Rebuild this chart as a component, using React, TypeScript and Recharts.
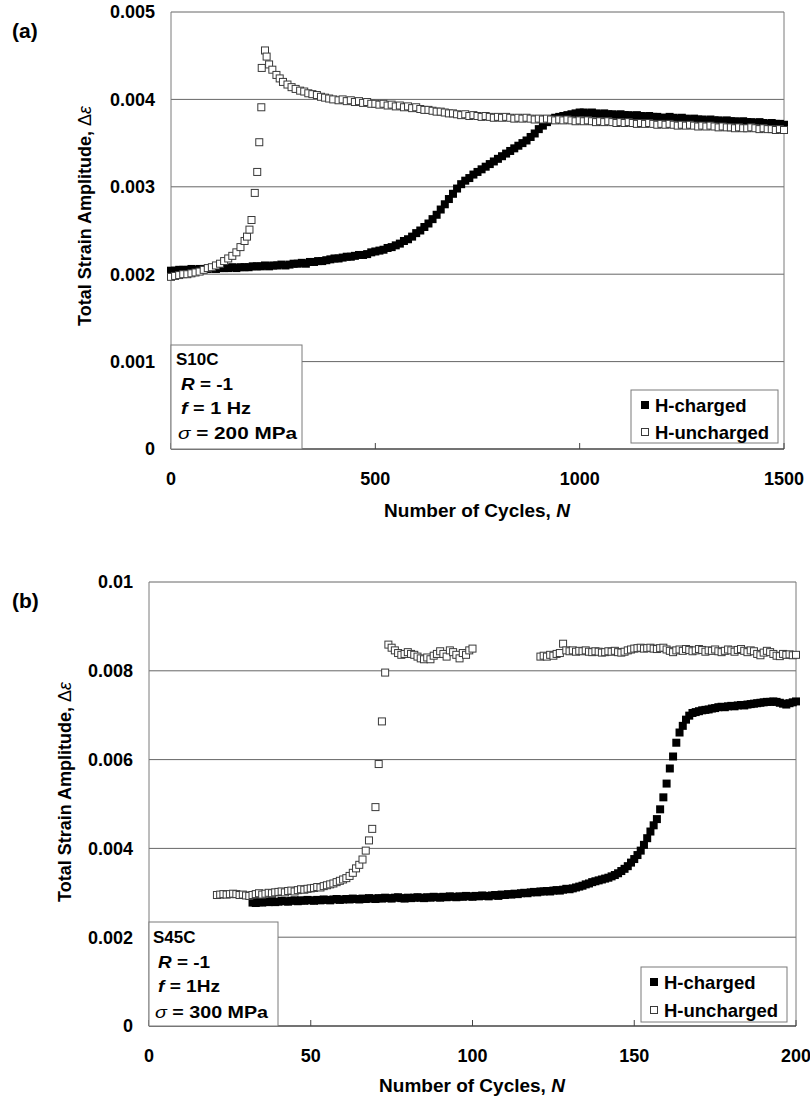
import React from 'react';
import { ScatterChart, Scatter, XAxis, YAxis, CartesianGrid, ReferenceLine } from 'recharts';

const FONT = '"Liberation Sans", Arial, Helvetica, sans-serif';

// ---------- Panel (a): S10C ----------
const aXTicks = [0, 500, 1000, 1500];
const aYTicks = [0, 0.001, 0.002, 0.003, 0.004, 0.005];

const aChargedN = [
  0, 10, 20, 30, 40, 50, 60, 70, 80, 90, 100,
  110, 120, 130, 140, 150, 160, 170, 180, 190, 200,
  210, 220, 230, 240, 250, 260, 270, 280, 290, 300,
  310, 320, 330, 340, 350, 360, 370, 380, 390, 400,
  410, 420, 430, 440, 450, 460, 470, 480, 490, 500,
  510, 520, 530, 540, 550, 560, 570, 580, 590, 600,
  610, 620, 630, 640, 650, 660, 670, 680, 690, 700,
  710, 720, 730, 740, 750, 760, 770, 780, 790, 800,
  810, 820, 830, 840, 850, 860, 870, 880, 890, 900,
  910, 920, 930, 940, 950, 960, 970, 980, 990, 1000,
  1010, 1020, 1030, 1040, 1050, 1060, 1070, 1080, 1090, 1100,
  1110, 1120, 1130, 1140, 1150, 1160, 1170, 1180, 1190, 1200,
  1210, 1220, 1230, 1240, 1250, 1260, 1270, 1280, 1290, 1300,
  1310, 1320, 1330, 1340, 1350, 1360, 1370, 1380, 1390, 1400,
  1410, 1420, 1430, 1440, 1450, 1460, 1470, 1480, 1490, 1500,
];
const aChargedEps = [
  0.00204, 0.00204, 0.00205, 0.00205, 0.00205, 0.00206, 0.00205, 0.00206, 0.00206, 0.00206, 0.00207,
  0.00206, 0.00207, 0.00207, 0.00207, 0.00208, 0.00207, 0.00208, 0.00208, 0.00208, 0.00209,
  0.00209, 0.00209, 0.0021, 0.00209, 0.0021, 0.0021, 0.00211, 0.0021, 0.00211, 0.00212,
  0.00212, 0.00213, 0.00212, 0.00214, 0.00214, 0.00215, 0.00215, 0.00216, 0.00217, 0.00218,
  0.00218, 0.00219, 0.0022, 0.0022, 0.00221, 0.00222, 0.00222, 0.00223, 0.00225, 0.00226,
  0.00227, 0.00228, 0.0023, 0.00231, 0.00233, 0.00235, 0.00238, 0.0024, 0.00243, 0.00247,
  0.0025, 0.00254, 0.00258, 0.00263, 0.00268, 0.00274, 0.0028, 0.00286, 0.00292, 0.00298,
  0.00303, 0.00307, 0.0031, 0.00314, 0.00317, 0.0032, 0.00323, 0.00326, 0.00329, 0.00332,
  0.00335, 0.00338, 0.00341, 0.00344, 0.00347, 0.0035, 0.00353, 0.00357, 0.00361, 0.00366,
  0.0037, 0.00374, 0.00377, 0.00379, 0.0038, 0.00381, 0.00382, 0.00383, 0.00384, 0.00385,
  0.00385, 0.00384, 0.00385, 0.00384, 0.00383, 0.00384, 0.00383, 0.00383, 0.00382, 0.00383,
  0.00382, 0.00382, 0.00381, 0.00382, 0.00381, 0.0038, 0.00381, 0.0038, 0.0038, 0.00379,
  0.00379, 0.0038, 0.00379, 0.00378, 0.00379, 0.00378, 0.00377, 0.00378, 0.00377, 0.00377,
  0.00376, 0.00377, 0.00376, 0.00376, 0.00375, 0.00376, 0.00375, 0.00375, 0.00374, 0.00375,
  0.00374, 0.00374, 0.00373, 0.00374, 0.00373, 0.00372, 0.00373, 0.00372, 0.00372, 0.00371,
];

const aUnchargedN = [
  0, 10, 20, 30, 40, 50, 60, 70, 80, 90, 100, 110, 120, 130, 140, 150, 160, 170, 180,
  186, 192, 197, 205, 211, 216, 221, 222, 230, 234, 240, 248, 258, 266, 274, 285, 295,
  305, 316, 326, 336, 346, 357, 367, 377, 387, 397,
  410, 420, 430, 440, 450, 460, 470, 480, 490, 500,
  510, 520, 530, 540, 550, 560, 570, 580, 590, 600,
  610, 620, 630, 640, 650, 660, 670, 680, 690, 700,
  710, 720, 730, 740, 750, 760, 770, 780, 790, 800,
  810, 820, 830, 840, 850, 860, 870, 880, 890, 900,
  910, 920, 930, 940, 950, 960, 970, 980, 990, 1000,
  1010, 1020, 1030, 1040, 1050, 1060, 1070, 1080, 1090, 1100,
  1110, 1120, 1130, 1140, 1150, 1160, 1170, 1180, 1190, 1200,
  1210, 1220, 1230, 1240, 1250, 1260, 1270, 1280, 1290, 1300,
  1310, 1320, 1330, 1340, 1350, 1360, 1370, 1380, 1390, 1400,
  1410, 1420, 1430, 1440, 1450, 1460, 1470, 1480, 1490, 1500,
];
const aUnchargedEps = [
  0.00197, 0.00198, 0.00199, 0.002, 0.002, 0.00201, 0.00202, 0.00203, 0.00205, 0.00207,
  0.00208, 0.0021, 0.00212, 0.00215, 0.00218, 0.00221, 0.00225, 0.00231, 0.00238,
  0.00243, 0.00251, 0.00262, 0.00293, 0.00317, 0.00351, 0.00391, 0.00436, 0.00456, 0.00449,
  0.0044, 0.00434, 0.00428, 0.00424, 0.0042, 0.00417, 0.00414, 0.00412, 0.0041, 0.00409,
  0.00407, 0.00406, 0.00405, 0.00403, 0.00402, 0.00401, 0.004,
  0.00399, 0.004, 0.00398, 0.00399, 0.00397, 0.00398, 0.00396, 0.00397, 0.00395, 0.00395,
  0.00394, 0.00395, 0.00393, 0.00394, 0.00392, 0.00393, 0.00391, 0.00392, 0.0039, 0.00391,
  0.00389, 0.00388, 0.00388, 0.00387, 0.00386, 0.00386, 0.00385, 0.00384, 0.00384, 0.00383,
  0.00382, 0.00383, 0.00381, 0.00382, 0.00381, 0.0038, 0.00381, 0.0038, 0.00379, 0.0038,
  0.00379, 0.0038, 0.00379, 0.00378, 0.00379, 0.00378, 0.00379, 0.00378, 0.00377, 0.00378,
  0.00377, 0.00378, 0.00377, 0.00376, 0.00377, 0.00376, 0.00377, 0.00376, 0.00375, 0.00376,
  0.00375, 0.00376, 0.00375, 0.00374, 0.00375, 0.00374, 0.00375, 0.00374, 0.00373, 0.00374,
  0.00373, 0.00374, 0.00373, 0.00372, 0.00373, 0.00372, 0.00373, 0.00372, 0.00371, 0.00372,
  0.00371, 0.00372, 0.00371, 0.0037, 0.00371, 0.0037, 0.00371, 0.0037, 0.00369, 0.0037,
  0.00369, 0.0037, 0.00369, 0.00368, 0.00369, 0.00368, 0.00368, 0.00367, 0.00368, 0.00367,
  0.00367, 0.00368, 0.00367, 0.00366, 0.00367, 0.00366, 0.00366, 0.00365, 0.00366, 0.00365,
];

// ---------- Panel (b): S45C ----------
const bXTicks = [0, 50, 100, 150, 200];
const bYTicks = [0, 0.002, 0.004, 0.006, 0.008, 0.01];

const bChargedN = [
  32, 33, 34, 35, 36, 37, 38, 39, 40, 41,
  42, 43, 44, 45, 46, 47, 48, 49, 50, 51,
  52, 53, 54, 55, 56, 57, 58, 59, 60, 61,
  62, 63, 64, 65, 66, 67, 68, 69, 70, 71,
  72, 73, 74, 75, 76, 77, 78, 79, 80, 81,
  82, 83, 84, 85, 86, 87, 88, 89, 90, 91,
  92, 93, 94, 95, 96, 97, 98, 99, 100, 101,
  102, 103, 104, 105, 106, 107, 108, 109, 110, 111,
  112, 113, 114, 115, 116, 117, 118, 119, 120, 121,
  122, 123, 124, 125, 126, 127, 128, 129, 130, 131,
  132, 133, 134, 135, 136, 137, 138, 139, 140, 141,
  142, 143, 144, 145, 146, 147, 148, 149, 150, 151,
  152, 153, 154, 155, 156, 157, 158, 159, 160, 161,
  162, 163, 164, 165, 166, 167, 168, 169, 170, 171,
  172, 173, 174, 175, 176, 177, 178, 179, 180, 181,
  182, 183, 184, 185, 186, 187, 188, 189, 190, 191,
  192, 193, 194, 195, 196, 197, 198, 199, 200,
];
const bChargedEps = [
  0.00278, 0.00277, 0.00279, 0.00278, 0.0028, 0.00279, 0.00281, 0.00279, 0.0028, 0.00282,
  0.00281, 0.0028, 0.00282, 0.00283, 0.00281, 0.00283, 0.00282, 0.00284, 0.00283, 0.00282,
  0.00284, 0.00283, 0.00285, 0.00284, 0.00283, 0.00285, 0.00286, 0.00284, 0.00285, 0.00286,
  0.00285, 0.00287, 0.00286, 0.00285, 0.00287, 0.00286, 0.00288, 0.00287, 0.00286, 0.00288,
  0.00287, 0.00289, 0.00288, 0.00287, 0.00289, 0.0029, 0.00288, 0.00287, 0.00289, 0.00288,
  0.00289, 0.0029, 0.00289, 0.00288, 0.0029, 0.00289, 0.00291, 0.0029, 0.00289, 0.00291,
  0.0029, 0.00292, 0.00291, 0.0029, 0.00292, 0.00291, 0.00293, 0.00292, 0.00291, 0.00293,
  0.00292, 0.00294, 0.00293, 0.00292, 0.00294, 0.00295, 0.00293, 0.00296, 0.00295, 0.00297,
  0.00296, 0.00298, 0.00297, 0.00299, 0.003, 0.00299, 0.00301, 0.00302, 0.00301, 0.00303,
  0.00303, 0.00304, 0.00303, 0.00305, 0.00306, 0.00305, 0.00307, 0.00309, 0.00308, 0.0031,
  0.00312, 0.00314, 0.00316, 0.00319, 0.00321, 0.00324, 0.00326, 0.00328, 0.0033, 0.00332,
  0.00334, 0.00337, 0.0034, 0.00344, 0.00349, 0.00354, 0.0036, 0.00368, 0.00376, 0.00385,
  0.00395, 0.00408, 0.00423, 0.00438, 0.00452, 0.00466, 0.00488, 0.00515, 0.00546, 0.0058,
  0.00607, 0.00638, 0.00661, 0.00676, 0.0069, 0.00699, 0.00705, 0.00707, 0.00709, 0.00711,
  0.00712, 0.00713, 0.00715, 0.00716, 0.00718, 0.00719, 0.00718, 0.0072, 0.00721, 0.0072,
  0.00722, 0.00723, 0.00722, 0.00724, 0.00725, 0.00726, 0.00727, 0.00728, 0.00729, 0.0073,
  0.0073, 0.00731, 0.0073, 0.00728, 0.00726, 0.00724, 0.00727, 0.00729, 0.00731,
];

const bUnchargedN = [
  21, 22, 23, 24, 25, 26, 27, 28, 29, 30,
  31, 32, 33, 34, 35, 36, 37, 38, 39, 40,
  41, 42, 43, 44, 45, 46, 47, 48, 49, 50,
  51, 52, 53, 54, 55, 56, 57, 58, 59, 60,
  61, 62, 63, 64, 65, 66, 67, 68, 69, 70,
  71, 72, 73, 74, 75, 76, 77, 78, 79, 80,
  81, 82, 83, 84, 85, 86, 87, 88, 89, 90,
  91, 92, 93, 94, 95, 96, 97, 98, 99, 100,
  121, 122, 123, 124, 125, 126, 127, 128,
  129, 130, 131, 132, 133, 134, 135, 136, 137, 138,
  139, 140, 141, 142, 143, 144, 145, 146, 147, 148,
  149, 150, 151, 152, 153, 154, 155, 156, 157, 158,
  159, 160, 161, 162, 163, 164, 165, 166, 167, 168,
  169, 170, 171, 172, 173, 174, 175, 176, 177, 178,
  179, 180, 181, 182, 183, 184, 185, 186, 187, 188,
  189, 190, 191, 192, 193, 194, 195, 196, 197, 198,
  199, 200,
];
const bUnchargedEps = [
  0.00295, 0.00296, 0.00297, 0.00296, 0.00297, 0.00298, 0.00297, 0.00295, 0.00296, 0.00294,
  0.00293, 0.00295, 0.00297, 0.00299, 0.00296, 0.00298, 0.003, 0.00299, 0.00301, 0.00302,
  0.00303, 0.00301, 0.00304, 0.00305, 0.00303, 0.00306, 0.00308, 0.00307, 0.00309, 0.0031,
  0.00311, 0.00313, 0.00312, 0.00315, 0.00317, 0.00319, 0.00321, 0.00324, 0.00327, 0.0033,
  0.00333, 0.00338, 0.00345, 0.00355, 0.00363, 0.00375, 0.00395, 0.00418, 0.00444, 0.00493,
  0.0059, 0.00686, 0.00796, 0.00859, 0.00852, 0.00846, 0.0084, 0.00836, 0.00838, 0.00842,
  0.00838, 0.00836, 0.00832, 0.00828, 0.00826, 0.0083, 0.00826, 0.00834, 0.00838, 0.00844,
  0.00838, 0.00832, 0.00846, 0.00842, 0.00836, 0.00828, 0.0084, 0.00836, 0.00846, 0.0085,
  0.00832, 0.00834, 0.00832, 0.00836, 0.00834, 0.00838, 0.0084, 0.00861,
  0.00846, 0.00844, 0.00846, 0.00843, 0.00845, 0.00844, 0.00846, 0.00843, 0.00842, 0.00844,
  0.00843, 0.00841, 0.00842, 0.00844, 0.00843, 0.00845, 0.00842, 0.00841, 0.00843, 0.00846,
  0.00848, 0.0085, 0.00851, 0.00852, 0.0085, 0.00851, 0.00852, 0.0085, 0.00849, 0.00851,
  0.00852, 0.00848, 0.00845, 0.00842, 0.00846, 0.00848, 0.00845, 0.00849, 0.00847, 0.00844,
  0.00846, 0.00849, 0.00847, 0.00843, 0.00846, 0.00845, 0.00848, 0.00844, 0.00842, 0.00845,
  0.00848, 0.00846, 0.00843, 0.00847, 0.00849, 0.00845, 0.00842, 0.00846, 0.00844, 0.00838,
  0.00835, 0.00841, 0.00845, 0.00842, 0.00838, 0.00834, 0.00833, 0.00838, 0.00836, 0.00837,
  0.00835, 0.00836,
];

const seriesNames = ['H-charged', 'H-uncharged'];
const aInfo = ['S10C', 'R', ' = -1', 'f', ' = 1 Hz', 'σ', ' = 200 MPa'];
const bInfo = ['S45C', 'R', ' = -1', 'f', ' = 1Hz', 'σ', ' = 300 MPa'];
const yTitle = 'Total Strain Amplitude, ';
const xTitle = 'Number of Cycles, ';

const zip = (ns: number[], es: number[]) => ns.map((n, i) => ({ n, eps: es[i] }));
const aCharged = zip(aChargedN, aChargedEps);
const aUncharged = zip(aUnchargedN, aUnchargedEps);
const bCharged = zip(bChargedN, bChargedEps);
const bUncharged = zip(bUnchargedN, bUnchargedEps);

const FilledSquare = (p: any) => (
  <rect x={p.cx - 4} y={p.cy - 4} width={8} height={8} fill="#000" />
);
const OpenSquare = (p: any) => (
  <rect x={p.cx - 3.5} y={p.cy - 3.5} width={7} height={7} fill="#fff" stroke="#3a3a3a" strokeWidth={1} />
);

const XTick = (props: any) => {
  const { x, y, payload } = props;
  const axisY = y - 6;
  return (
    <g>
      <line x1={x} x2={x} y1={axisY} y2={axisY - 6} stroke="#444" strokeWidth={1} />
      <text x={x} y={axisY + 30} dy="0.35em" textAnchor="middle" fontSize={18} fontWeight="bold" fill="#000" fontFamily={FONT}>
        {payload.value}
      </text>
    </g>
  );
};

const yTickStyle = { fontSize: 18, fontWeight: 'bold', fill: '#000', fontFamily: FONT };

function Panel(props: {
  width: number; height: number; margin: any; yWidth: number; xHeight: number;
  xDomain: number[]; yDomain: number[]; xTicks: number[]; yTicks: number[];
  charged: any[]; uncharged: any[];
}) {
  const { width, height, margin, yWidth, xHeight, xDomain, yDomain, xTicks, yTicks, charged, uncharged } = props;
  return (
    <ScatterChart width={width} height={height} margin={margin}>
      <CartesianGrid horizontal vertical={false} stroke="#666" />
      <XAxis
        type="number" dataKey="n" domain={xDomain} ticks={xTicks} interval={0}
        height={xHeight} axisLine={{ stroke: '#333' }} tickLine={false} tickSize={6} tickMargin={0}
        tick={<XTick />}
      />
      <YAxis
        type="number" dataKey="eps" domain={yDomain} ticks={yTicks} interval={0}
        width={yWidth} axisLine={{ stroke: '#7a7a7a' }} tickLine={false} tickSize={6} tickMargin={10}
        tick={yTickStyle} tickFormatter={(v: number) => String(v)}
      />
      <ReferenceLine x={xDomain[1]} stroke="#7a7a7a" />
      <Scatter name={seriesNames[0]} data={charged} shape={FilledSquare} isAnimationActive={false} />
      <Scatter name={seriesNames[1]} data={uncharged} shape={OpenSquare} isAnimationActive={false} />
    </ScatterChart>
  );
}

function Annotations(p: {
  tag: string; tagY: number; yTitleX: number; yTitleY: number; xTitleX: number; xTitleY: number;
  box: number[]; info: string[]; infoX: number; infoY: number[]; infoLen: number[];
  leg: number[]; legMarkX: number; legTextX: number; legY: number[];
}) {
  const t = { fontFamily: FONT, fontWeight: 'bold' as const, fill: '#000' };
  return (
    <g>
      <text x={12} y={p.tagY} fontSize={21} {...t}>{p.tag}</text>
      <text transform={`translate(${p.yTitleX},${p.yTitleY}) rotate(-90)`} textAnchor="middle" fontSize={18} {...t}>
        {yTitle}
        <tspan fontWeight="normal">Δ</tspan>
        <tspan fontWeight="normal" fontStyle="italic">ε</tspan>
      </text>
      <text x={p.xTitleX} y={p.xTitleY} textAnchor="middle" fontSize={19} {...t}>
        {xTitle}
        <tspan fontStyle="italic">N</tspan>
      </text>
      <rect x={p.box[0]} y={p.box[1]} width={p.box[2]} height={p.box[3]} fill="#fff" stroke="#7a7a7a" />
      <text x={p.infoX} y={p.infoY[0]} fontSize={17} {...t}>{p.info[0]}</text>
      <text x={p.infoX + 5} y={p.infoY[1]} fontSize={17} textLength={p.infoLen[0]} lengthAdjust="spacingAndGlyphs" {...t}>
        <tspan fontStyle="italic">{p.info[1]}</tspan>{p.info[2]}
      </text>
      <text x={p.infoX + 5} y={p.infoY[2]} fontSize={17} textLength={p.infoLen[1]} lengthAdjust="spacingAndGlyphs" {...t}>
        <tspan fontStyle="italic">{p.info[3]}</tspan>{p.info[4]}
      </text>
      <text x={p.infoX + 2} y={p.infoY[3]} fontSize={17} textLength={p.infoLen[2]} lengthAdjust="spacingAndGlyphs" {...t}>
        <tspan fontStyle="italic" fontWeight="normal">{p.info[5]}</tspan>{p.info[6]}
      </text>
      <rect x={p.leg[0]} y={p.leg[1]} width={p.leg[2]} height={p.leg[3]} fill="#fff" stroke="#7a7a7a" />
      <rect x={p.legMarkX} y={p.legY[0] - 4} width={8} height={8} fill="#000" />
      <rect x={p.legMarkX + 0.5} y={p.legY[1] - 3.5} width={7} height={7} fill="#fff" stroke="#3a3a3a" />
      <text x={p.legTextX} y={p.legY[0] + 6.5} fontSize={18.5} {...t}>{seriesNames[0]}</text>
      <text x={p.legTextX} y={p.legY[1] + 6.5} fontSize={18.5} {...t}>{seriesNames[1]}</text>
    </g>
  );
}

export default function App() {
  return (
    <div style={{ position: 'absolute', left: 0, top: 0, width: 810, height: 1097, background: '#fff', overflow: 'hidden', fontFamily: FONT }}>
      <div style={{ position: 'absolute', left: 0, top: 0 }}>
        <Panel
          width={810} height={530} margin={{ top: 12, right: 26, bottom: 0, left: 0 }}
          yWidth={171} xHeight={81}
          xDomain={[0, 1500]} yDomain={[0, 0.005]} xTicks={aXTicks} yTicks={aYTicks}
          charged={aCharged} uncharged={aUncharged}
        />
      </div>
      <div style={{ position: 'absolute', left: 0, top: 530 }}>
        <Panel
          width={810} height={567} margin={{ top: 52, right: 14, bottom: 0, left: 0 }}
          yWidth={149} xHeight={71}
          xDomain={[0, 200]} yDomain={[0, 0.01]} xTicks={bXTicks} yTicks={bYTicks}
          charged={bCharged} uncharged={bUncharged}
        />
      </div>
      <svg width={810} height={1097} style={{ position: 'absolute', left: 0, top: 0, pointerEvents: 'none' }}>
        <Annotations
          tag="(a)" tagY={38} yTitleX={91} yTitleY={216} xTitleX={477} xTitleY={517}
          box={[171, 345, 131, 104]} info={aInfo} infoX={176} infoY={[365, 390, 414, 439]} infoLen={[52, 70, 119]}
          leg={[631, 390, 147, 53]} legMarkX={641} legTextX={655} legY={[405, 432]}
        />
        <Annotations
          tag="(b)" tagY={608} yTitleX={71} yTitleY={792} xTitleX={472} xTitleY={1092}
          box={[149, 922, 129, 104]} info={bInfo} infoX={153} infoY={[943, 968, 992, 1018]} infoLen={[52, 62, 113]}
          leg={[641, 967, 146, 55]} legMarkX={650} legTextX={664} legY={[982, 1010]}
        />
      </svg>
    </div>
  );
}
